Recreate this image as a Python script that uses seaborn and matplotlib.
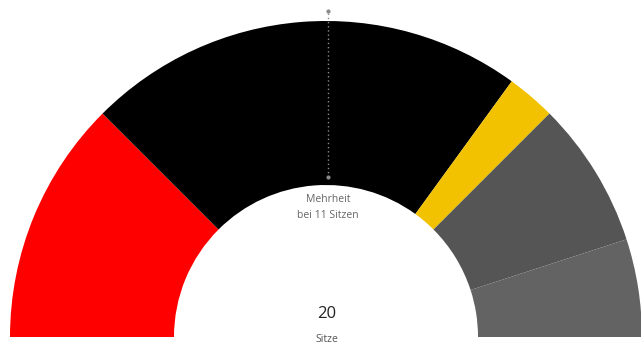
import seaborn as sns
import matplotlib.pyplot as plt

# seats per party (left to right)
parties = ['SPD', 'CDU', 'FDP', 'Sonstige 1', 'Sonstige 2']
seats = [5, 9, 1, 3, 2]
colors = ['#ff0000', '#000000', '#f2c200', '#555555', '#636363']
total = sum(seats)
majority = total // 2 + 1

sns.set_theme(style="white")
plt.rcParams['font.family'] = ['Open Sans', 'DejaVu Sans']

fig = plt.figure(figsize=(6.41, 3.5), dpi=100)
ax = fig.add_axes([0, 0, 1, 1])

cx, cy = 326, 13
r_out, r_in = 316, 152

# half donut: the second half is an invisible wedge
ax.pie(seats + [total], colors=colors + ['none'], startangle=180, counterclock=False,
       radius=r_out, center=(cx, cy), wedgeprops=dict(width=r_out - r_in, linewidth=0))

# majority line
ax.plot([cx + 2, cx + 2], [cy + r_in + 8, cy + r_out + 10], color='#8a8a8a',
        linestyle=(0, (1, 2)), linewidth=1)
ax.plot([cx + 2, cx + 2], [cy + r_in + 8, cy + r_out + 10], 'o', color='#8a8a8a', markersize=2)

ax.text(cx + 2, 150, 'Mehrheit', ha='center', va='center', fontsize=7.5, color='#666666')
ax.text(cx + 2, 135, f'bei {majority} Sitzen', ha='center', va='center', fontsize=7.5, color='#666666')
ax.text(cx + 1, 36, str(total), ha='center', va='center', fontsize=12, color='#222222')
ax.text(cx + 1, 11, 'Sitze', ha='center', va='center', fontsize=7.5, color='#555555')

ax.set_xlim(0, 641)
ax.set_ylim(0, 350)
ax.set_aspect('auto')
ax.axis('off')

plt.savefig('out.png', dpi=100)
